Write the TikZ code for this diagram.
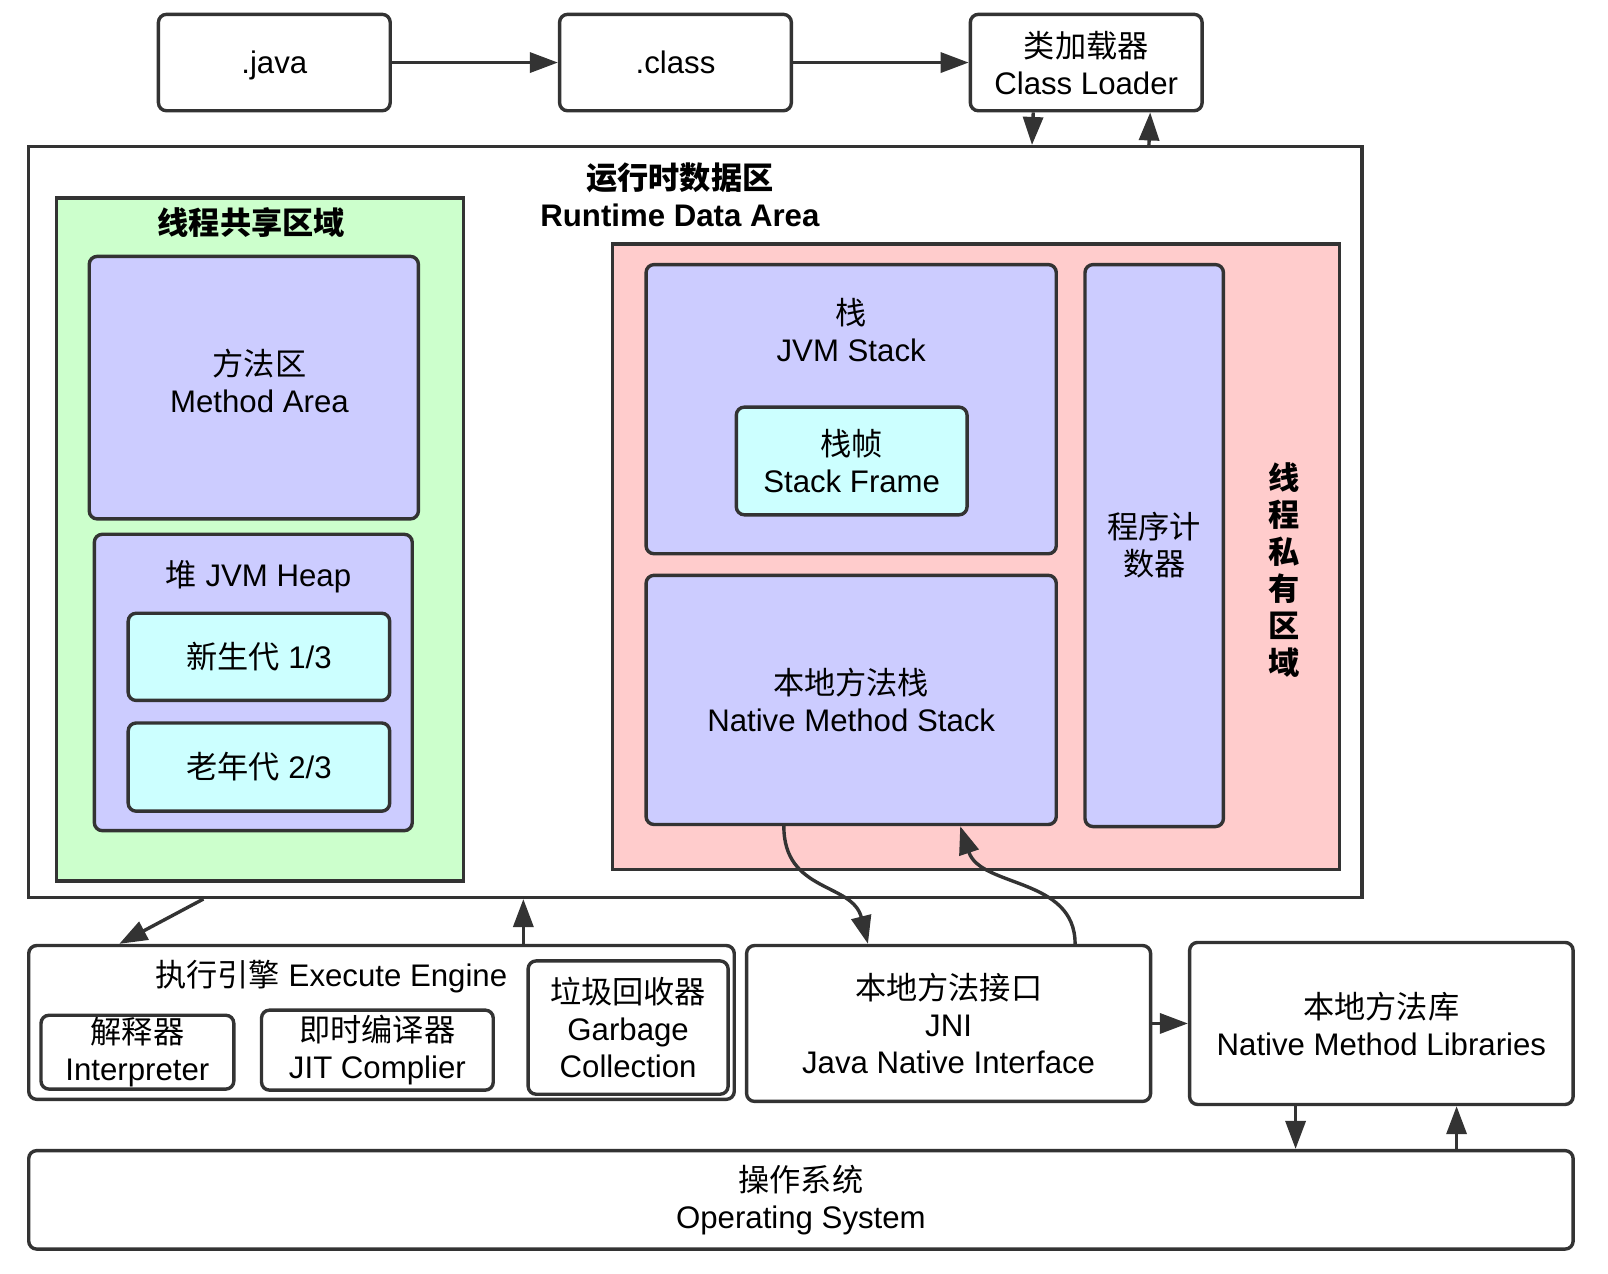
\documentclass[tikz,border=0pt]{standalone}
\usepackage{fontspec}
\setmainfont{Liberation Sans}
\newfontfamily\cjk{Noto Sans CJK SC}
\usetikzlibrary{arrows.meta, positioning, calc}

\definecolor{linegray}{HTML}{333333}
\definecolor{sharedgreen}{HTML}{CCFFCC}
\definecolor{areablue}{HTML}{CCCCFF}
\definecolor{subcyan}{HTML}{CCFFFF}
\definecolor{privpink}{HTML}{FFCCCC}

\begin{document}
\begin{tikzpicture}[
        x=0.5128pt,
        y=-0.5128pt,
        font=\fontsize{15.6pt}{18.5pt}\selectfont,
        sized/.style 2 args={
            minimum width=#1*0.5128pt,
            minimum height=#2*0.5128pt
        },
        region/.style={
            draw=linegray,
            line width=1.7pt,
            inner sep=0pt,
            align=center
        },
        box/.style={
            region,
            rounded corners=4pt,
            fill=white
        },
        topbox/.style={
            box,
            sized={226}{94}
        },
        areabox/.style={
            box,
            fill=areablue
        },
        subbox/.style={
            box,
            fill=subcyan
        },
        lbl/.style={
            align=center,
            inner sep=0pt
        },
        title/.style={
            lbl,
            font=\fontsize{15.6pt}{18.5pt}\selectfont\bfseries
        },
        arrow/.style={
            -{Triangle[length=14pt, width=10pt]},
            draw=linegray,
            line width=1.7pt
        }
    ]
    \useasboundingbox (0,0) rectangle (1568,1242);

    % 节点
    \node[topbox, text depth=0pt] (java) at (267.5,61) {.java};
    \node[topbox, right=83pt of java] (class) {.class};
    \node[topbox, right=87.8pt of class] (loader) {{\cjk 类加载器}\\Class Loader};

    \node[region, fill=white, sized={1300}{732}] (rda) at (678,509) {};
    \node[title] (rdatitle) at (663,190) {{\cjk 运行时数据区}\\Runtime Data Area};

    \node[region, fill=sharedgreen, sized={397}{666}] (shared) at (253.5,526) {};
    \node[title] (sharedtitle) at (245,217) {\cjk 线程共享区域};
    \node[areabox, sized={321}{256}] (method) at (247.5,378) {};
    \node[lbl] (methodtext) at (253,371) {{\cjk 方法区}\\Method Area};
    \node[areabox, sized={310}{289}] (heap) at (247,665.5) {};
    \node[lbl] (heaptitle) at (252,562) {{\cjk 堆} JVM Heap};
    \node[subbox, sized={255}{85}] (young) at (252.5,640.5) {{\cjk 新生代} 1/3};
    \node[subbox, sized={255}{86}] (old) at (252.5,748) {{\cjk 老年代} 2/3};

    \node[region, fill=privpink, sized={709}{610}] (private) at (951.5,543) {};
    \node[areabox, sized={400}{282}] (stack) at (830,399) {};
    \node[lbl] (stacktitle) at (830,322) {{\cjk 栈}\\JVM Stack};
    \node[subbox, sized={225}{105}] (frame) at (830.5,449.5) {{\cjk 栈帧}\\Stack Frame};
    \node[areabox, sized={400}{243}] (nstack) at (830,682.5) {{\cjk 本地方法栈}\\Native Method Stack};
    \node[areabox, sized={135}{548}] (pc) at (1125.5,532) {{\cjk 程序计}\\{\cjk 数器}};
    \node[title, font=\fontsize{15.6pt}{18.5pt}\selectfont\bfseries\cjk] (privtitle) at (1252,556) {线\\程\\私\\有\\区\\域};

    \node[box, sized={688}{150}] (engine) at (372,997) {};
    \node[lbl] (enginetitle) at (323,952) {{\cjk 执行引擎} Execute Engine};
    \node[box, sized={188}{72}] (interp) at (134,1026) {{\cjk 解释器}\\Interpreter};
    \node[box, sized={226}{78}] (jit) at (368,1024) {{\cjk 即时编译器}\\JIT Complier};
    \node[box, sized={195}{130}] (gc) at (612.5,1002) {{\cjk 垃圾回收器}\\Garbage\\Collection};

    \node[box, sized={394}{152}] (jni) at (925,998) {{\cjk 本地方法接口}\\JNI\\Java Native Interface};
    \node[box, sized={374}{158}] (libs) at (1347,998) {{\cjk 本地方法库}\\Native Method Libraries};
    \node[box, sized={1506}{96}] (os) at (781,1170) {{\cjk 操作系统}\\Operating System};

    % 箭头
    \draw[arrow] (java) -- (class);
    \draw[arrow] (class) -- (loader);
    \draw[arrow] ($(loader.south west)+(63,0)$) -- ($(rda.north west)+(980,0)$);
    \draw[arrow] ($(rda.north west)+(1094,0)$) -- ($(loader.south west)+(177,0)$);

    \draw[arrow] ($(rda.south west)+(172,0)$) -- ($(engine.north west)+(90,0)$);
    \draw[arrow] ($(engine.north west)+(484,0)$) -- ($(rda.south west)+(484,0)$);

    \draw[arrow] ($(nstack.south west)+(136,0)$) .. controls +(0,65) and +(-15,-60) .. ($(jni.north west)+(120,0)$);
    \draw[arrow] ($(jni.north west)+(322,0)$) .. controls +(0,-65) and +(20,60) .. ($(nstack.south west)+(308,0)$);

    \draw[arrow] (jni) -- (libs);
    \draw[arrow] ($(libs.south west)+(105,0)$) -- ($(os.north west)+(1237,0)$);
    \draw[arrow] ($(os.north west)+(1394,0)$) -- ($(libs.south west)+(262,0)$);

\end{tikzpicture}
\end{document}
